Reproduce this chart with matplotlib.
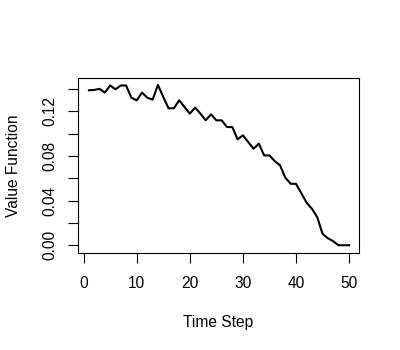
import matplotlib
matplotlib.use("Agg")
import matplotlib.pyplot as plt
import numpy as np

# Data
time_step = list(range(1, 51))
value_function = [
    0.1387, 0.1390, 0.1400, 0.1366, 0.1430, 0.1396, 0.1430, 0.1430, 0.1321, 0.1297,
    0.1366, 0.1321, 0.1303, 0.1435, 0.1327, 0.1226, 0.1226, 0.1297, 0.1238, 0.1178,
    0.1232, 0.1178, 0.1118, 0.1172, 0.1118, 0.1118, 0.1058, 0.1058, 0.0948, 0.0984,
    0.0924, 0.0864, 0.0909, 0.0804, 0.0804, 0.0753, 0.0715, 0.0604, 0.0550, 0.0550,
    0.0466, 0.0380, 0.0326, 0.0251, 0.0102, 0.0063, 0.0036, 0.0000, 0.0000, 0.0000,
]
x_ticks = [0, 10, 20, 30, 40, 50]
y_ticks = [0.00, 0.02, 0.04, 0.06, 0.08, 0.10, 0.12, 0.14]
y_ticklabels = ["0.00", "", "0.04", "", "0.08", "", "0.12", ""]

plt.rcParams['font.family'] = ['Liberation Sans', 'DejaVu Sans']
FS = 11.2

fig = plt.figure(figsize=(4, 3.5), dpi=100)
W, H = 400, 350
left, right, top, bottom = 78.3, 359.3, 78.0, 252.5
ax = fig.add_axes([left / W, 1 - bottom / H, (right - left) / W, (bottom - top) / H])

ax.plot(time_step, value_function, color='black', linewidth=1.5)

ax.set_xlim(-1.0, 51.92)
ax.set_ylim(-0.0065, 0.1497)

ax.set_xticks(x_ticks)
ax.set_xticklabels([str(v) for v in x_ticks])
ax.set_yticks(y_ticks)
ax.set_yticklabels(y_ticklabels, rotation=90, va='center')

for s in ax.spines.values():
    s.set_linewidth(0.8)
    s.set_color('black')

ax.tick_params(axis='both', direction='out', length=6.9, width=0.8, colors='black',
               labelsize=FS, labelcolor='black')
ax.tick_params(axis='x', pad=9.7)
ax.tick_params(axis='y', pad=8.2)

fig.text(218.5 / W, 1 - 322 / H, "Time Step", ha='center', va='center', fontsize=FS)
fig.text(14 / W, 1 - 165.5 / H, "Value Function", ha='center', va='center',
         rotation=90, fontsize=FS)

fig.savefig("out.png", dpi=100)
